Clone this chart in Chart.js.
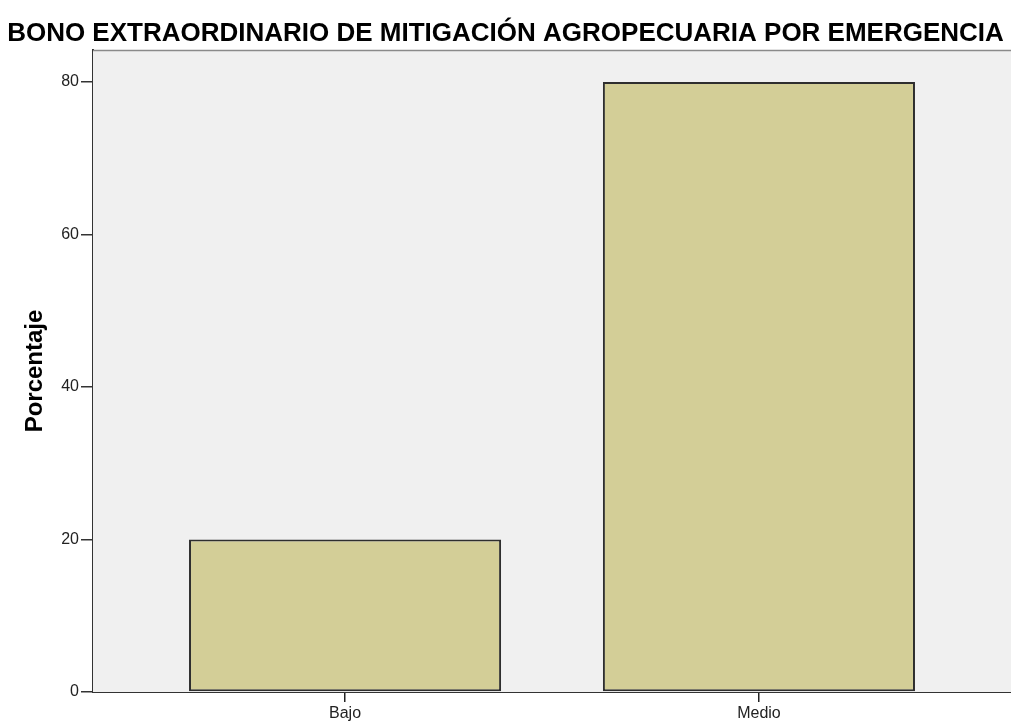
<!DOCTYPE html>
<html>
<head>
<meta charset="utf-8">
<script src="https://cdn.jsdelivr.net/npm/chart.js@4.4.1/dist/chart.umd.min.js"></script>
<style>
  html, body { margin: 0; padding: 0; background: #ffffff; }
  #wrap { width: 1011px; height: 724px; position: relative; }
</style>
</head>
<body>
<div id="wrap"><canvas id="c" width="1011" height="724"></canvas></div>
<script>
const chartTitle = "BONO EXTRAORDINARIO DE MITIGACIÓN AGROPECUARIA POR EMERGENCIA";
const categories = ["Bajo", "Medio"];
const categoryPositions = [1, 2];
const percentValues = [20, 80];
const yTickValues = [0, 20, 40, 60, 80];
const yAxisTitle = "Porcentaje";

const plotFrame = {
  id: 'plotFrame',
  beforeDatasetsDraw(chart) {
    const { ctx, chartArea: a } = chart;
    ctx.save();
    ctx.fillStyle = '#f0f0f0';
    ctx.fillRect(a.left, a.top, a.right - a.left, a.bottom - a.top);
    ctx.strokeStyle = '#8a8a8a';
    ctx.lineWidth = 1.5;
    ctx.beginPath();
    ctx.moveTo(a.left, a.top + 0.5);
    ctx.lineTo(a.right, a.top + 0.5);
    ctx.stroke();
    ctx.restore();
  }
};

new Chart(document.getElementById('c'), {
  type: 'bar',
  data: {
    datasets: [{
      data: categoryPositions.map((x, i) => ({ x: x, y: percentValues[i] })),
      backgroundColor: '#d3ce97',
      borderColor: '#2e2e2e',
      borderWidth: 2,
      borderSkipped: false,
      categoryPercentage: 1.0,
      barPercentage: 0.754
    }]
  },
  plugins: [plotFrame],
  options: {
    responsive: false,
    animation: false,
    layout: { padding: { top: 0, right: 0, bottom: 0, left: 0 } },
    plugins: {
      legend: { display: false },
      tooltip: { enabled: false },
      title: {
        display: true,
        text: chartTitle,
        color: '#000000',
        font: { family: 'Liberation Sans, Arial, sans-serif', size: 26, weight: 'bold', lineHeight: 1.2 },
        padding: { top: 18, bottom: 0.8 }
      }
    },
    scales: {
      x: {
        type: 'linear',
        offset: false,
        min: 0.391,
        max: 2.609,
        afterBuildTicks(scale) {
          scale.ticks = categoryPositions.map(v => ({ value: v }));
        },
        afterFit(scale) { scale.height = 32; },
        grid: { display: true, offset: false, drawOnChartArea: false, drawTicks: true, tickLength: 10, color: '#222', lineWidth: 1.5 },
        border: { display: true, color: '#333', width: 2 },
        ticks: {
          autoSkip: false,
          maxRotation: 0,
          padding: 2,
          color: '#222',
          font: { family: 'Liberation Sans, Arial, sans-serif', size: 16 },
          callback: (v) => {
            const i = categoryPositions.indexOf(v);
            return i >= 0 ? categories[i] : '';
          }
        }
      },
      y: {
        min: 0,
        max: 84.2,
        afterBuildTicks(scale) {
          scale.ticks = yTickValues.map(v => ({ value: v }));
        },
        afterFit(scale) { scale.width = 93; },
        grid: { display: true, drawOnChartArea: false, drawTicks: true, tickLength: 12, color: '#333', lineWidth: 1.5 },
        border: { display: true, color: '#333', width: 2 },
        ticks: {
          padding: 2,
          color: '#222',
          font: { family: 'Liberation Sans, Arial, sans-serif', size: 16 }
        },
        title: {
          display: true,
          text: yAxisTitle,
          color: '#000',
          font: { family: 'Liberation Sans, Arial, sans-serif', size: 24, weight: 'bold', lineHeight: 1.2 },
          padding: { top: 21, bottom: 0 }
        }
      }
    }
  }
});
</script>
</body>
</html>
